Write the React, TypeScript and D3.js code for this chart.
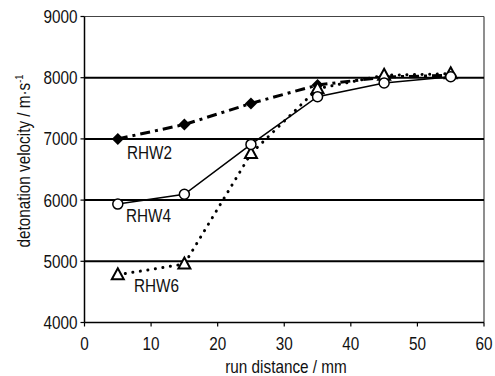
import React from "react";
import * as d3 from "d3";

const xValues = [5, 15, 25, 35, 45, 55];
const rhw2 = [7000, 7235, 7580, 7880, 8010, 8040];
const rhw4 = [5935, 6095, 6910, 7690, 7915, 8015];
const rhw6 = [4780, 4955, 6760, 7820, 8040, 8065];
const xTicks = [0, 10, 20, 30, 40, 50, 60];
const yTicks = [4000, 5000, 6000, 7000, 8000, 9000];
const gridValues = [5000, 6000, 7000, 8000];
const seriesNames = ["RHW2", "RHW4", "RHW6"];

const W = 495, H = 376;
const L = 84.5, R = 484, T = 16.5, B = 322.5;
const FONT = "'Liberation Sans', Arial, sans-serif";
const SX = 0.85;

function T2(props: { x: number; y: number; anchor?: string; size?: number; rotate?: number; children: React.ReactNode }) {
  const { x, y, anchor = "start", size = 18, rotate = 0, children } = props;
  return (
    <text transform={`translate(${x},${y}) rotate(${rotate}) scale(${SX},1)`} textAnchor={anchor}
      fontSize={size} fill="#111">{children}</text>
  );
}

export default function App() {
  const x = d3.scaleLinear().domain([0, 60]).range([L, R]);
  const y = d3.scaleLinear().domain([4000, 9000]).range([B, T]);
  const line = d3.line<[number, number]>().x(d => x(d[0])).y(d => y(d[1]));
  const pts = (v: number[]) => xValues.map((xv, i) => [xv, v[i]] as [number, number]);

  const tri = (cx: number, cy: number, s: number) =>
    `M${cx},${cy - s * 0.65} L${cx + s * 0.6},${cy + s * 0.45} L${cx - s * 0.6},${cy + s * 0.45} Z`;

  return (
    <svg width={W} height={H} style={{ position: "fixed", left: 0, top: 0, display: "block", background: "#fff" }} fontFamily={FONT}>
      {/* frame top and right */}
      <line x1={L} x2={R} y1={y(9000)} y2={y(9000)} stroke="#444" strokeWidth={1.2} />
      <line x1={R} x2={R} y1={T} y2={B} stroke="#444" strokeWidth={1.2} />
      {/* grid lines */}
      {gridValues.map(g => (
        <line key={g} x1={L} x2={R} y1={y(g)} y2={y(g)} stroke="#000" strokeWidth={2} />
      ))}
      {/* axes */}
      <line x1={L} x2={L} y1={T} y2={B} stroke="#000" strokeWidth={1.5} />
      <line x1={L} x2={R} y1={B} y2={B} stroke="#000" strokeWidth={1.5} />
      {yTicks.map(t => (
        <g key={t}>
          <line x1={L - 4} x2={L} y1={y(t)} y2={y(t)} stroke="#000" strokeWidth={1.2} />
          <T2 x={L - 7} y={y(t) + 6.5} anchor="end">{t}</T2>
        </g>
      ))}
      {xTicks.map(t => (
        <g key={t}>
          <line x1={x(t)} x2={x(t)} y1={B} y2={B + 4} stroke="#000" strokeWidth={1.2} />
          <T2 x={x(t)} y={349.5} anchor="middle">{t}</T2>
        </g>
      ))}
      <T2 x={286} y={373} anchor="middle">run distance / mm</T2>
      <T2 x={30} y={161} anchor="middle" rotate={-90}>
        detonation velocity / m·s<tspan dy={-7} fontSize={11}>-1</tspan>
      </T2>

      {/* series lines */}
      <path d={line(pts(rhw2)) || ""} fill="none" stroke="#000" strokeWidth={3}
        strokeDasharray="10,5,3,5" />
      <path d={line(pts(rhw6)) || ""} fill="none" stroke="#000" strokeWidth={3}
        strokeDasharray="0.1,7.5" strokeLinecap="round" />
      <path d={line(pts(rhw4)) || ""} fill="none" stroke="#000" strokeWidth={1.5} />

      {/* markers */}
      {pts(rhw2).map((p, i) => {
        const cx = x(p[0]), cy = y(p[1]), s = 6;
        return <path key={"d" + i} d={`M${cx},${cy - s} L${cx + s},${cy} L${cx},${cy + s} L${cx - s},${cy} Z`} fill="#000" />;
      })}
      {pts(rhw6).map((p, i) => (
        <path key={"t" + i} d={tri(x(p[0]), y(p[1]), 10)} fill="#fff" stroke="#000" strokeWidth={2} />
      ))}
      {pts(rhw4).map((p, i) => (
        <circle key={"c" + i} cx={x(p[0])} cy={y(p[1])} r={5} fill="#fff" stroke="#000" strokeWidth={1.5} />
      ))}

      {/* series labels */}
      <T2 x={127} y={159}>{seriesNames[0]}</T2>
      <T2 x={126} y={222}>{seriesNames[1]}</T2>
      <T2 x={134} y={292}>{seriesNames[2]}</T2>
    </svg>
  );
}
